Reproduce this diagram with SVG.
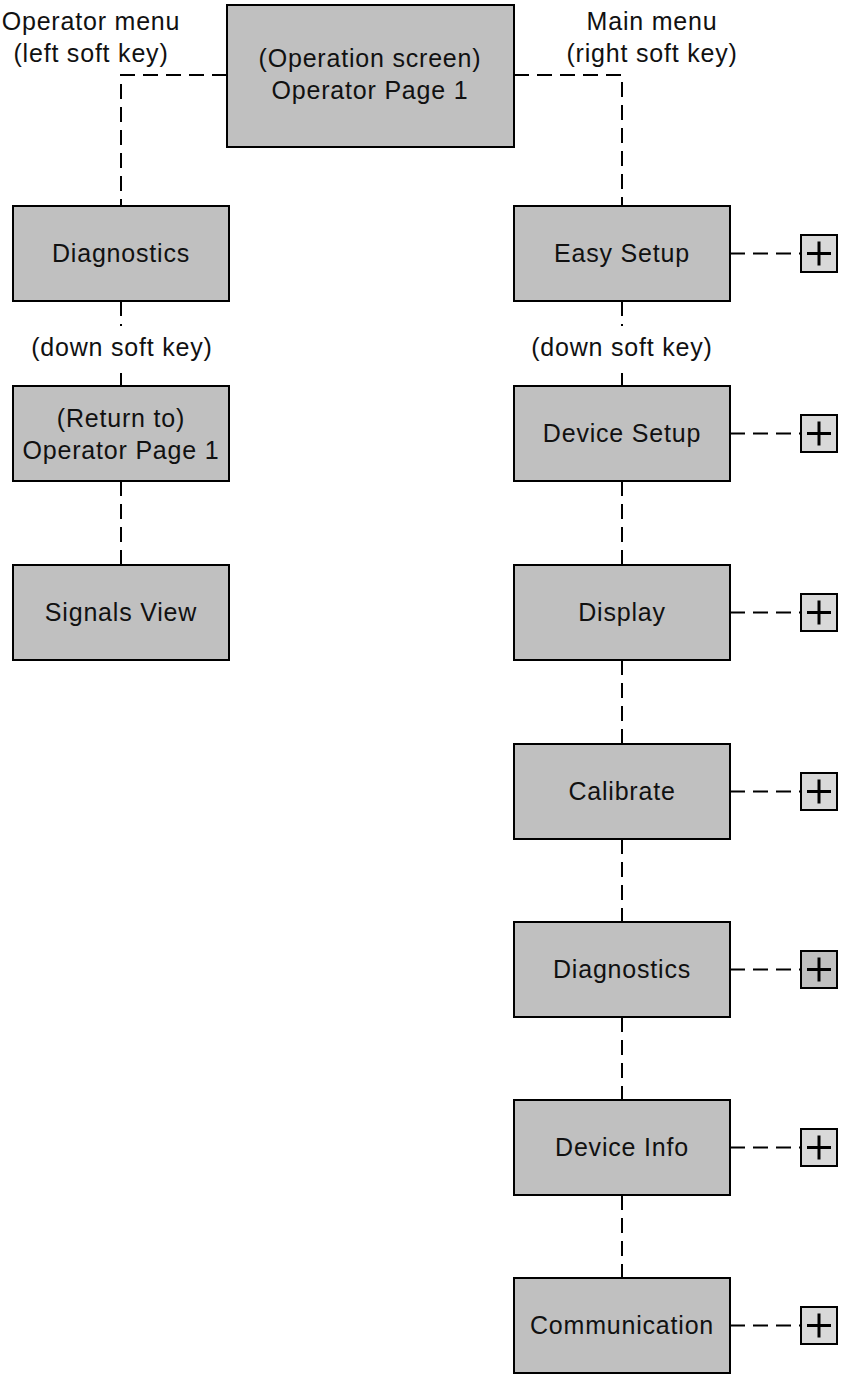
<svg xmlns="http://www.w3.org/2000/svg" width="841" height="1378" viewBox="0 0 841 1378">
<style>
.box{fill:#c0c0c0;stroke:#000;stroke-width:2}
.pbox{fill:#d9d9d9;stroke:#000;stroke-width:2}
.pbox2{fill:#c0c0c0;stroke:#000;stroke-width:2}
.plus{stroke:#000;stroke-width:3;fill:none}
.dash{stroke:#000;stroke-width:2;fill:none;stroke-dasharray:15 8}
.solid{stroke:#000;stroke-width:2;fill:none}
text{font-family:"Liberation Sans",Arial,sans-serif;font-size:25px;fill:#111;text-anchor:middle;letter-spacing:0.8px}
</style>
<rect width="841" height="1378" fill="#fff"/>
<g id="connectors">
<path class="dash" d="M227 75 H121 V206"/>
<path class="dash" d="M514 75 H622 V206"/>
<path class="solid" d="M121 301 V316 M121 324 V326 M121 373 V386"/>
<path class="solid" d="M622 301 V316 M622 324 V326 M622 373 V386"/>
<path class="dash" d="M121 481 V565"/>
<path class="dash" d="M622 481 V565"/>
<path class="dash" d="M622 660 V744"/>
<path class="dash" d="M622 839 V922"/>
<path class="dash" d="M622 1017 V1100"/>
<path class="dash" d="M622 1195 V1278"/>
<path class="dash" d="M730 253.5 H801"/>
<path class="dash" d="M730 433.5 H801"/>
<path class="dash" d="M730 612.5 H801"/>
<path class="dash" d="M730 791.5 H801"/>
<path class="dash" d="M730 969.5 H801"/>
<path class="dash" d="M730 1147.5 H801"/>
<path class="dash" d="M730 1325.5 H801"/>
</g>
<g id="labels">
<text x="91" y="30">Operator menu</text>
<text x="91" y="62">(left soft key)</text>
<text x="652" y="30">Main menu</text>
<text x="652" y="62">(right soft key)</text>
<text x="122" y="356">(down soft key)</text>
<text x="622" y="356">(down soft key)</text>
</g>
<g id="operation-screen">
<rect class="box" x="227" y="5" width="287" height="142"/>
<text x="370" y="67">(Operation screen)</text>
<text x="370" y="99">Operator Page 1</text>
</g>
<g id="op-diagnostics">
<rect class="box" x="13" y="206" width="216" height="95"/>
<text x="121" y="262">Diagnostics</text>
</g>
<g id="op-return">
<rect class="box" x="13" y="386" width="216" height="95"/>
<text x="121" y="427">(Return to)</text>
<text x="121" y="459">Operator Page 1</text>
</g>
<g id="op-signals">
<rect class="box" x="13" y="565" width="216" height="95"/>
<text x="121" y="621">Signals View</text>
</g>
<g id="easy-setup">
<rect class="box" x="514" y="206" width="216" height="95"/>
<text x="622" y="262">Easy Setup</text>
<rect class="pbox" x="801" y="235" width="36" height="37"/>
<path class="plus" d="M807 253.5 H831 M819 241.5 V265.5"/>
</g>
<g id="device-setup">
<rect class="box" x="514" y="386" width="216" height="95"/>
<text x="622" y="442">Device Setup</text>
<rect class="pbox" x="801" y="415" width="36" height="37"/>
<path class="plus" d="M807 433.5 H831 M819 421.5 V445.5"/>
</g>
<g id="display">
<rect class="box" x="514" y="565" width="216" height="95"/>
<text x="622" y="621">Display</text>
<rect class="pbox" x="801" y="594" width="36" height="37"/>
<path class="plus" d="M807 612.5 H831 M819 600.5 V624.5"/>
</g>
<g id="calibrate">
<rect class="box" x="514" y="744" width="216" height="95"/>
<text x="622" y="800">Calibrate</text>
<rect class="pbox" x="801" y="773" width="36" height="37"/>
<path class="plus" d="M807 791.5 H831 M819 779.5 V803.5"/>
</g>
<g id="diagnostics">
<rect class="box" x="514" y="922" width="216" height="95"/>
<text x="622" y="978">Diagnostics</text>
<rect class="pbox2" x="801" y="951" width="36" height="37"/>
<path class="plus" d="M807 969.5 H831 M819 957.5 V981.5"/>
</g>
<g id="device-info">
<rect class="box" x="514" y="1100" width="216" height="95"/>
<text x="622" y="1156">Device Info</text>
<rect class="pbox" x="801" y="1129" width="36" height="37"/>
<path class="plus" d="M807 1147.5 H831 M819 1135.5 V1159.5"/>
</g>
<g id="communication">
<rect class="box" x="514" y="1278" width="216" height="95"/>
<text x="622" y="1334">Communication</text>
<rect class="pbox" x="801" y="1307" width="36" height="37"/>
<path class="plus" d="M807 1325.5 H831 M819 1313.5 V1337.5"/>
</g>
</svg>
